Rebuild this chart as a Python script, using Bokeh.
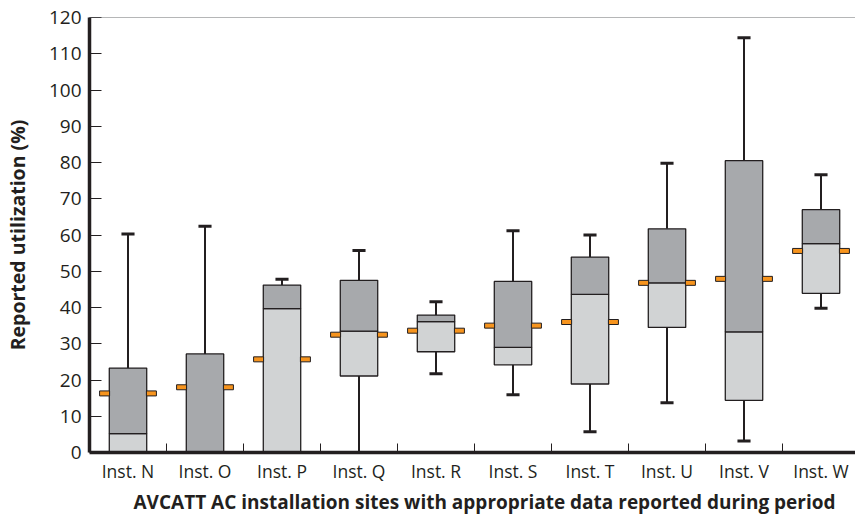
from bokeh.plotting import figure
from bokeh.models import Range1d, FixedTicker, Span, ColumnDataSource, Title
from bokeh.embed import file_html
from bokeh.resources import INLINE

categories = ["Inst. N", "Inst. O", "Inst. P", "Inst. Q", "Inst. R",
              "Inst. S", "Inst. T", "Inst. U", "Inst. V", "Inst. W"]
wmin   = [0.0, 0.0, 0.0, 0.0, 21.7, 15.9, 5.7, 13.7, 3.2, 39.8]
q1     = [0.0, 0.0, 0.0, 21.1, 27.8, 24.2, 18.9, 34.5, 14.4, 43.9]
median = [5.2, 0.0, 39.7, 33.5, 36.1, 29.0, 43.6, 46.8, 33.3, 57.6]
q3     = [23.3, 27.2, 46.2, 47.5, 37.9, 47.2, 53.9, 61.7, 80.5, 67.0]
wmax   = [60.3, 62.4, 47.8, 55.7, 41.6, 61.2, 60.0, 79.8, 114.4, 76.6]
mean   = [16.3, 18.0, 25.7, 32.5, 33.6, 35.0, 36.0, 46.8, 47.9, 55.6]
y_ticks = [0, 10, 20, 30, 40, 50, 60, 70, 80, 90, 100, 110, 120]
x_title = "AVCATT AC installation sites with appropriate data reported during period"
y_title = "Reported utilization (%)"

FONT = "Open Sans"
DARK = "#231F20"
xs = list(range(len(categories)))

p = figure(width=855, height=525, output_backend="svg", toolbar_location=None,
           x_range=Range1d(-0.5, 9.448), y_range=Range1d(0, 120),
           min_border_left=89, min_border_right=0, min_border_top=17,
           min_border_bottom=73)
p.grid.visible = False
p.outline_line_color = None

CAP = 0.085
src = ColumnDataSource(dict(x=xs, q1=q1, med=median, q3=q3, lo=wmin, hi=wmax,
                            mean=mean,
                            capl=[x - CAP for x in xs], capr=[x + CAP for x in xs],
                            ml=[x - 0.304 for x in xs], mr=[x + 0.304 for x in xs]))

# upper whiskers
p.segment(x0="x", y0="q3", x1="x", y1="hi", source=src, line_color=DARK, line_width=2)
p.segment(x0="capl", y0="hi", x1="capr", y1="hi", source=src, line_color=DARK, line_width=3)
# lower whiskers (only where present)
lo_idx = [i for i in xs if wmin[i] < q1[i]]
src_lo = ColumnDataSource(dict(x=[xs[i] for i in lo_idx], q1=[q1[i] for i in lo_idx],
                               lo=[wmin[i] for i in lo_idx],
                               capl=[xs[i] - CAP for i in lo_idx],
                               capr=[xs[i] + CAP for i in lo_idx]))
p.segment(x0="x", y0="lo", x1="x", y1="q1", source=src_lo, line_color=DARK, line_width=2)
p.segment(x0="capl", y0="lo", x1="capr", y1="lo", source=src_lo, line_color=DARK, line_width=3)

# boxes
p.vbar(x="x", bottom="q1", top="med", width=0.486, source=src,
       fill_color="#D1D3D4", line_color=DARK, line_width=1.3)
p.vbar(x="x", bottom="med", top="q3", width=0.486, source=src,
       fill_color="#A7A9AC", line_color=DARK, line_width=1.3)

# mean markers
for col in ("ml", "mr"):
    p.rect(x=col, y="mean", width=10, height=5, width_units="screen",
           height_units="screen", source=src, fill_color="#F7941D",
           line_color=DARK, line_width=1)

# top border
p.add_layout(Span(location=120, dimension="width", line_color="#6D6E71", line_width=1.2))

# axes
xa = p.xaxis[0]
xa.ticker = FixedTicker(ticks=xs, minor_ticks=[x + 0.5 for x in xs[:-1]])
xa.major_label_overrides = {i: c for i, c in enumerate(categories)}
xa.major_tick_line_color = None
xa.minor_tick_line_color = DARK
xa.minor_tick_line_width = 1
xa.minor_tick_in = 9
xa.minor_tick_out = 0
xa.axis_line_width = 3.5
xa.axis_line_color = DARK
xa.major_label_text_font = FONT
xa.major_label_text_font_size = "17.5px"
xa.major_label_text_color = DARK
xa.major_label_standoff = 0

# x title (shifted right like the reference)
p.add_layout(Title(text=x_title, align="left", offset=44, text_font=FONT,
                   text_font_style="bold", text_font_size="19px",
                   text_color=DARK, standoff=2), "below")

ya = p.yaxis[0]
ya.ticker = FixedTicker(ticks=y_ticks)
ya.minor_tick_line_color = None
ya.major_tick_in = 12
ya.major_tick_out = 0
ya.major_tick_line_color = DARK
ya.major_tick_line_width = 1
ya.axis_line_width = 3.5
ya.axis_line_color = DARK
ya.major_label_text_font = FONT
ya.major_label_text_font_size = "19px"
ya.major_label_text_color = DARK
ya.major_label_standoff = 8
ya.axis_label = y_title
ya.axis_label_text_font = FONT
ya.axis_label_text_font_style = "bold"
ya.axis_label_text_font_size = "19.5px"
ya.axis_label_text_color = DARK
ya.axis_label_standoff = 15

open("out.html", "w").write(file_html(p, INLINE))
